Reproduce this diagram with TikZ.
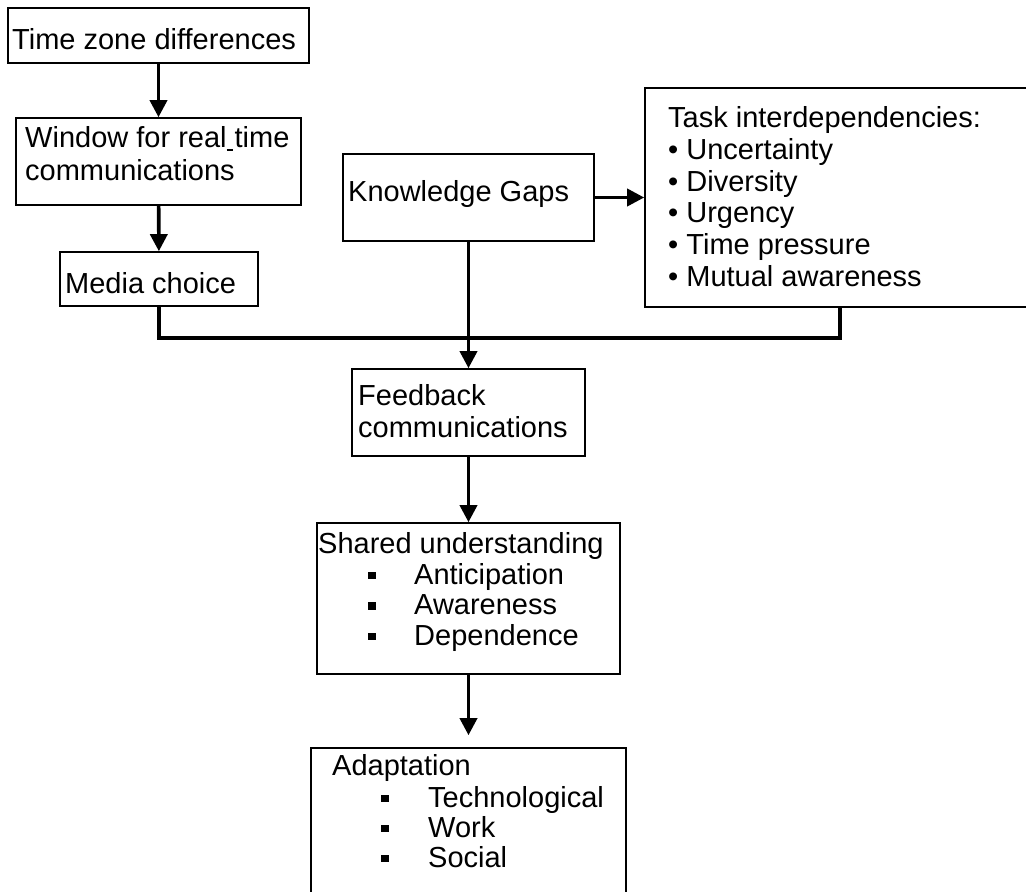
\documentclass[tikz,border=0pt]{standalone}
\usepackage{fontspec}
\setmainfont{Liberation Sans}
\usetikzlibrary{arrows.meta}
\tikzset{
  box/.style={draw, line width=1.6pt, inner sep=0pt},
  txt/.style={anchor=base west, inner sep=0pt, font=\fontsize{29}{33}\selectfont},
  conn/.style={line width=3.6pt},
  arr/.style={conn, -{Triangle[width=17pt,length=17pt]}},
}
\newcommand{\sqbullet}{\rule[5pt]{7.5pt}{7.5pt}}

\begin{document}
\begin{tikzpicture}[x=1pt,y=-1pt]
	\useasboundingbox (0,0) rectangle (1026,892);
	\clip (0,0) rectangle (1026,892);
	% boxes
	\node[box, minimum width=301pt, minimum height=55pt] (tz) at (158.5,35.5) {};
	\node[box, minimum width=285pt, minimum height=87pt] (win) at (158.5,161.5) {};
	\node[box, minimum width=198pt, minimum height=54pt] (media) at (159,279) {};
	\node[box, minimum width=251pt, minimum height=87pt] (kg) at (468.5,197.5) {};
	\node[box, minimum width=390pt, minimum height=219pt] (task) at (840,197.5) {};
	\node[box, minimum width=233pt, minimum height=87pt] (fb) at (468.5,412.5) {};
	\node[box, minimum width=303pt, minimum height=151pt] (sh) at (468.5,598.5) {};
	\node[box, minimum width=315pt, minimum height=160pt] (ad) at (468.5,828) {};
	% texts
	\node[txt] (tz-t) at (12,49) {Time zone differences};
	\node[txt] (win-t1) at (25,147) {Window for real\rule[-3.5pt]{6.5pt}{1.5pt}\hspace{1.5pt}time};
	\node[txt] (win-t2) at (25,180) {communications};
	\node[txt] (media-t) at (65,293) {Media choice};
	\node[txt] (kg-t) at (348,201) {Knowledge Gaps};
	\node[txt] (task-t) at (668,127.5) {Task interdependencies:};
	\foreach \t [count=\i] in {Uncertainty, Diversity, Urgency, Time pressure, Mutual awareness}
		\node[txt] (task-\i) at (668,127.5+31.8*\i) {\textbullet\ \t};
	\node[txt] (fb-t1) at (358,405) {Feedback};
	\node[txt] (fb-t2) at (358,437) {communications};
	\node[txt] (sh-t) at (318,553) {Shared understanding};
	\foreach \t [count=\i] in {Anticipation, Awareness, Dependence}
		\node[txt] (sh-\i) at (368,553.5+30.5*\i) {\sqbullet\hspace{38.5pt}\t};
	\node[txt] (ad-t) at (332,775) {Adaptation};
	\foreach \t [count=\i] in {Technological, Work, Social}
		\node[txt] (ad-\i) at (381,777+30*\i) {\sqbullet\hspace{39.5pt}\t};
	% connectors
	\draw[arr] (tz) -- (win);
	\draw[arr] (win) -- (media);
	\draw[arr] (kg) -- (task);
	\draw[conn] (media.south) -- ++(0,31) -| (task.south);
	\draw[arr] (kg) -- (fb);
	\draw[arr] (fb) -- (sh);
	\draw[arr, shorten >=12pt] (sh) -- (ad);
\end{tikzpicture}
\end{document}
